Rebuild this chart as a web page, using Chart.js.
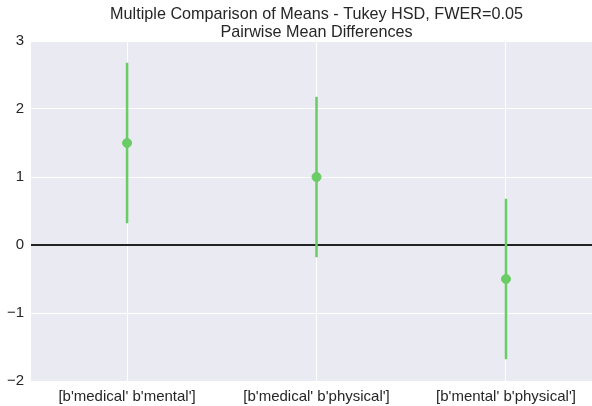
<!DOCTYPE html>
<html>
<head>
<meta charset="utf-8">
<script src="https://cdn.jsdelivr.net/npm/chart.js@4.4.0/dist/chart.umd.min.js"></script>
<style>
  html, body { margin: 0; padding: 0; background: #fff; }
  #box { width: 592px; height: 406px; }
</style>
</head>
<body>
<div id="box"><canvas id="wykres"></canvas></div>
<script>
// dane
const kategorie = ["[b'medical' b'mental']", "[b'medical' b'physical']", "[b'mental' b'physical']"];
const srednie = [1.5, 1.0, -0.5];
const dolne = [0.32, -0.18, -1.68];
const gorne = [2.68, 2.18, 0.68];
const tytul = ["Multiple Comparison of Means - Tukey HSD, FWER=0.05", "Pairwise Mean Differences"];
const ticksY = [-2, -1, 0, 1, 2, 3];

const zielony = '#6acc64';
const czcionka = "'Liberation Sans', Arial, sans-serif";

// tlo obszaru wykresu (styl seaborn)
const tloPlugin = {
  id: 'tlo',
  beforeDraw(chart) {
    const { ctx, chartArea: a } = chart;
    ctx.save();
    ctx.fillStyle = '#eaeaf2';
    ctx.fillRect(a.left, a.top, a.right - a.left, a.bottom - a.top);
    ctx.restore();
  }
};

// tytul wysrodkowany nad osiami
const tytulPlugin = {
  id: 'tytul',
  afterDraw(chart) {
    const { ctx } = chart;
    const cx = 316.5;
    ctx.save();
    ctx.fillStyle = '#262626';
    ctx.font = '16.2px ' + czcionka;
    ctx.textAlign = 'center';
    ctx.textBaseline = 'alphabetic';
    ctx.fillText(tytul[0], cx, 19);
    ctx.fillText(tytul[1], cx, 37);
    ctx.restore();
  }
};

const zestawy = [];
// odcinki przedzialow ufnosci
kategorie.forEach((k, i) => {
  zestawy.push({
    type: 'line',
    data: [{ x: i, y: dolne[i] }, { x: i, y: gorne[i] }],
    borderColor: zielony,
    borderWidth: 2.5,
    pointRadius: 0,
    order: 2
  });
});
// srednie
zestawy.push({
  type: 'scatter',
  data: srednie.map((v, i) => ({ x: i, y: v })),
  backgroundColor: zielony,
  borderColor: zielony,
  pointRadius: 4.5,
  order: 1
});

new Chart(document.getElementById('wykres'), {
  type: 'scatter',
  data: { datasets: zestawy },
  options: {
    responsive: true,
    maintainAspectRatio: false,
    animation: false,
    layout: { autoPadding: false, padding: { top: 41, right: 0, left: 0, bottom: 0 } },
    plugins: {
      legend: { display: false },
      tooltip: { enabled: false },
      title: { display: false }
    },
    scales: {
      x: {
        type: 'linear',
        min: -0.507,
        max: 2.454,
        afterFit(s) { s.height = 25; s.paddingRight = 0; s.paddingLeft = 0; },
        afterBuildTicks(s) { s.ticks = kategorie.map((_, i) => ({ value: i })); },
        ticks: {
          color: '#262626',
          font: { family: czcionka, size: 15 },
          padding: 7,
          maxRotation: 0,
          autoSkip: false,
          callback: (v) => kategorie[v]
        },
        grid: { color: '#ffffff', lineWidth: 1, drawTicks: false },
        border: { display: false }
      },
      y: {
        min: -2,
        max: 3,
        afterFit(s) { s.width = 31; s.paddingTop = 0; s.paddingBottom = 0; },
        afterBuildTicks(s) { s.ticks = ticksY.map(v => ({ value: v })); },
        ticks: {
          color: '#262626',
          font: { family: czcionka, size: 15 },
          padding: 7,
          callback: (v) => String(v).replace('-', '\u2212')
        },
        grid: {
          color: (c) => c.tick && c.tick.value === 0 ? '#222222' : '#ffffff',
          lineWidth: (c) => c.tick && c.tick.value === 0 ? 2 : 1,
          drawTicks: false
        },
        border: { display: false }
      }
    }
  },
  plugins: [tloPlugin, tytulPlugin]
});
</script>
</body>
</html>
